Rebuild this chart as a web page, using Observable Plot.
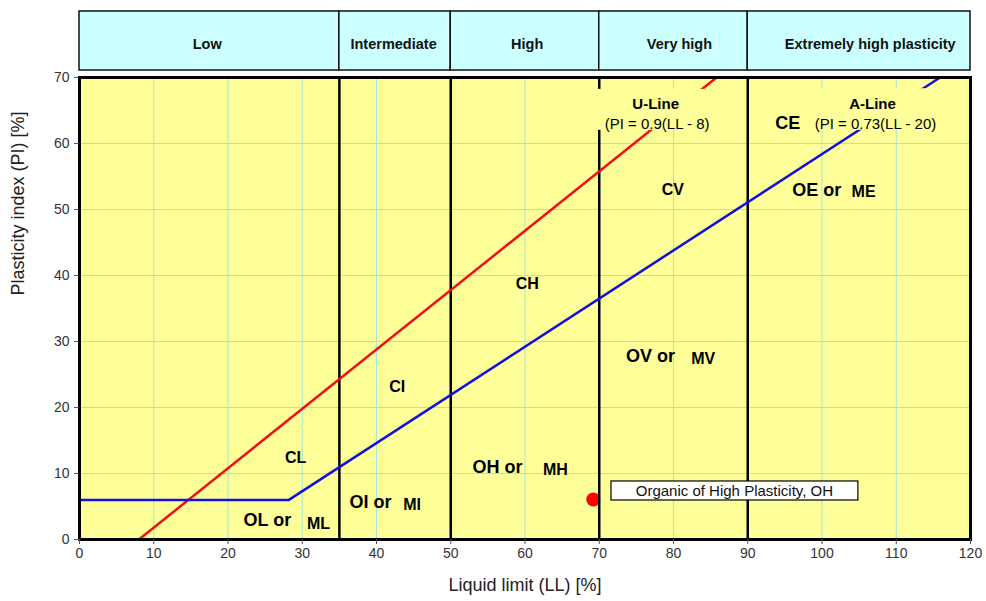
<!DOCTYPE html>
<html>
<head>
<meta charset="utf-8">
<script src="https://cdn.jsdelivr.net/npm/d3@7"></script>
<script src="https://cdn.jsdelivr.net/npm/@observablehq/plot@0.6"></script>
<style>
  html, body { margin: 0; padding: 0; background: white; }
</style>
</head>
<body>
<div id="chart"></div>
<script>
// ---- data ----
const llTicks = [0, 10, 20, 30, 40, 50, 60, 70, 80, 90, 100, 110, 120];
const piTicks = [0, 10, 20, 30, 40, 50, 60, 70];

const zoneStart = [0, 35, 50, 70, 90];
const zoneEnd = [35, 50, 70, 90, 120];
const zoneNames = ["Low", "Intermediate", "High", "Very high", "Extremely high plasticity"];
const zoneLabelLL = [17.2, 42.3, 60.3, 80.8, 106.5];

const dividerLL = [35, 50, 70, 90];

// U-line (PI = 0.9(LL - 8)) and A-line (PI = 0.73(LL - 20)) end points
const uLineLL = [8, 85.8];
const uLinePI = [0, 70];
const aLineLL = [0, 28.2, 115.9];
const aLinePI = [6, 6, 70];

// zone labels
const bigLabels = ["OL or", "OI or", "OH or", "OV or", "OE or"];
const bigLabelLL = [25.3, 39.2, 56.3, 76.9, 99.3];
const bigLabelPI = [2.9, 5.6, 10.9, 27.7, 52.9];
const mLabels = ["ML", "MI", "MH", "MV", "ME"];
const mLabelLL = [32.2, 44.8, 64.1, 84.0, 105.6];
const mLabelPI = [2.4, 5.3, 10.6, 27.3, 52.6];
const cLabels = ["CL", "CI", "CH", "CV"];
const cLabelLL = [29.1, 42.8, 60.3, 79.9];
const cLabelPI = [12.3, 23.2, 38.8, 52.9];

const lineNames = ["U-Line", "A-Line"];
const lineNameLL = [77.6, 106.8];
const lineNamePI = [65.9, 65.9];
const lineEqs = ["(PI = 0.9(LL - 8)", "(PI = 0.73(LL - 20)"];
const lineEqLL = [77.8, 107.2];
const lineEqPI = [63.0, 63.0];
const ceLabel = ["CE"];
const ceLL = [95.4];
const cePI = [63.0];
// label backgrounds that hide the lines behind the line-equation texts
const boxLL1 = [69.6, 93.6];
const boxLL2 = [85.6, 117.2];
const boxPI1 = [62.0, 62.0];
const boxPI2 = [68.2, 68.3];

// sample point
const sampleLL = [69.2];
const samplePI = [6.06];
const sampleName = ["Organic of High Plasticity, OH"];
const noteLL = [71.65, 104.9, 88.2];   // box left, box right, text centre
const notePI = [5.91, 8.79, 7.35];     // box bottom, box top, text centre

// ---- tables ----
const zones = zoneNames.map((n, i) => ({name: n, x1: zoneStart[i], x2: zoneEnd[i], lx: zoneLabelLL[i]}));
const uLine = uLineLL.map((x, i) => ({x, y: uLinePI[i]}));
const aLine = aLineLL.map((x, i) => ({x, y: aLinePI[i]}));
const big = bigLabels.map((t, i) => ({t, x: bigLabelLL[i], y: bigLabelPI[i]}));
const mm = mLabels.map((t, i) => ({t, x: mLabelLL[i], y: mLabelPI[i]}));
const cc = cLabels.map((t, i) => ({t, x: cLabelLL[i], y: cLabelPI[i]}));
const ln = lineNames.map((t, i) => ({t, x: lineNameLL[i], y: lineNamePI[i]}));
const le = lineEqs.map((t, i) => ({t, x: lineEqLL[i], y: lineEqPI[i]}));
const ce = ceLabel.map((t, i) => ({t, x: ceLL[i], y: cePI[i]}));
const boxes = boxLL1.map((x1, i) => ({x1, x2: boxLL2[i], y1: boxPI1[i], y2: boxPI2[i]}));
const sample = sampleLL.map((x, i) => ({x, y: samplePI[i]}));
const note = [{t: sampleName[0], x1: noteLL[0], x2: noteLL[1], y1: notePI[0], y2: notePI[1], x: noteLL[2], y: notePI[2]}];

const FONT = "'Liberation Sans', Arial, Helvetica, sans-serif";
const gridColor = "#a3e6d3";
const paper = "#FFFF99";

const chart = Plot.plot({
  width: 986,
  height: 601,
  marginLeft: 79,
  marginRight: 16,
  marginTop: 77,
  marginBottom: 62,
  x: {domain: [0, 120]},
  y: {domain: [0, 70]},
  style: {fontFamily: FONT, background: "white", color: "#333", overflow: "visible"},
  marks: [
    Plot.frame({fill: paper, stroke: null}),
    Plot.gridX(llTicks, {stroke: gridColor, strokeOpacity: 1, strokeWidth: 1}),
    Plot.gridY(piTicks, {stroke: gridColor, strokeOpacity: 1, strokeWidth: 1}),
    // header band
    Plot.rect(zones, {x1: "x1", x2: "x2", y1: 71.06, y2: 80, fill: "#CCFFFF", stroke: "#111", strokeWidth: 1.5}),
    Plot.text(zones, {x: "lx", y: 75, text: "name", fontWeight: "bold", fontSize: 14.5, fill: "#111"}),
    // sample point
    Plot.dot(sample, {x: "x", y: "y", r: 7, fill: "#ff0000", stroke: null}),
    // dividers
    Plot.ruleX(dividerLL, {y1: 0, y2: 70, stroke: "#000", strokeWidth: 2.5}),
    // lines
    Plot.line(uLine, {x: "x", y: "y", stroke: "#ee1111", strokeWidth: 2.5}),
    Plot.line(aLine, {x: "x", y: "y", stroke: "#1111dd", strokeWidth: 2.5}),
    // label backgrounds
    Plot.rect(boxes, {x1: "x1", x2: "x2", y1: "y1", y2: "y2", fill: paper, stroke: null}),
    // labels
    Plot.text(big, {x: "x", y: "y", text: "t", fontWeight: "bold", fontSize: 18, fill: "#000"}),
    Plot.text(mm, {x: "x", y: "y", text: "t", fontWeight: "bold", fontSize: 16, fill: "#000"}),
    Plot.text(cc, {x: "x", y: "y", text: "t", fontWeight: "bold", fontSize: 16, fill: "#000"}),
    Plot.text(ln, {x: "x", y: "y", text: "t", fontWeight: "bold", fontSize: 15, fill: "#000"}),
    Plot.text(le, {x: "x", y: "y", text: "t", fontSize: 15, fill: "#000"}),
    Plot.text(ce, {x: "x", y: "y", text: "t", fontWeight: "bold", fontSize: 18, fill: "#000"}),
    // annotation
    Plot.rect(note, {x1: "x1", x2: "x2", y1: "y1", y2: "y2", fill: "white", stroke: "#000", strokeWidth: 1.2}),
    Plot.text(note, {x: "x", y: "y", text: "t", fontSize: 15, fill: "#111"}),
    // frame
    Plot.frame({stroke: "#000", strokeWidth: 3}),
    // axes
    Plot.axisX(llTicks, {tickSize: 5, tickPadding: 4, fontSize: 14, label: null, stroke: "#555"}),
    Plot.axisY(piTicks, {tickSize: 5, tickPadding: 5, fontSize: 14, label: null, stroke: "#555"}),
    Plot.text(["Liquid limit (LL) [%]"], {frameAnchor: "bottom", dy: 51, fontSize: 18, fill: "#222"}),
    Plot.text(["Plasticity index (PI) [%]"], {frameAnchor: "left", rotate: -90, dx: -61, dy: -13, fontSize: 18, fill: "#222"})
  ]
});
document.getElementById("chart").appendChild(chart);
</script>
</body>
</html>
